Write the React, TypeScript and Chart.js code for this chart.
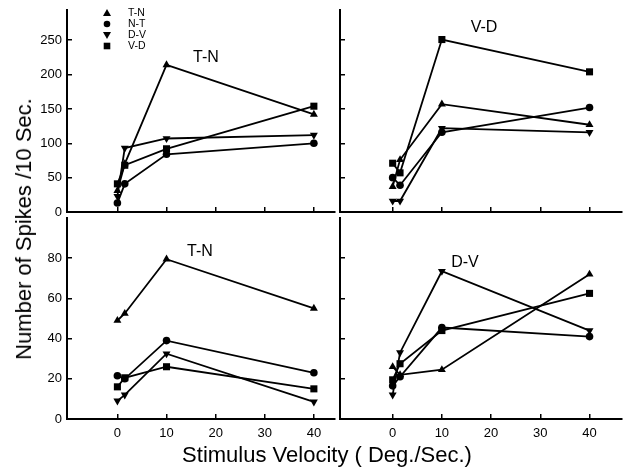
import React, { useEffect, useRef } from 'react';
import { Chart, registerables } from 'chart.js';

Chart.register(...registerables);

const FONT = "'Liberation Sans', Arial, Helvetica, sans-serif";

// ---- data ----
const velocities = [0, 1.5, 10, 40];
const seriesNames = ['T-N', 'N-T', 'D-V', 'V-D'];
const xTicks = [0, 10, 20, 30, 40];
const topYTicks = [0, 50, 100, 150, 200, 250];
const bottomYTicks = [0, 20, 40, 60, 80];

// top-left panel (T-N preferring cell)
const tlTN = [31, 70, 214, 142];
const tlNT = [13, 41, 84, 100];
const tlDV = [23, 93, 107, 112];
const tlVD = [41, 68, 92, 154];

// top-right panel (V-D preferring cell)
const trTN = [37, 76, 157, 127];
const trNT = [50, 39, 116, 152];
const trDV = [16, 16, 122, 116];
const trVD = [71, 57, 251, 204];

// bottom-left panel (T-N preferring cell)
const blTN = [49, 52.5, 79.5, 55];
const blNT = [21.5, 20, 39, 23];
const blDV = [9, 12, 32.5, 8.5];
const blVD = [16, 20.5, 26, 15];

// bottom-right panel (D-V preferring cell)
const brTN = [26, 22, 24.5, 72];
const brNT = [16.5, 21, 45.5, 41];
const brDV = [12, 33, 73.5, 44];
const brVD = [19.5, 27.5, 44, 62.5];

const panelLabels = ['T-N', 'V-D', 'T-N', 'D-V'];

// ---- styles ----
const markerStyles = [
  { pointStyle: 'triangle', rotation: 0, radius: 4.6 },
  { pointStyle: 'circle', rotation: 0, radius: 3.8 },
  { pointStyle: 'triangle', rotation: 180, radius: 4.6 },
  { pointStyle: 'rect', rotation: 0, radius: 5 },
];

function makeDatasets(series: number[][]) {
  return series.map((vals, i) => ({
    label: seriesNames[i],
    data: velocities.map((x, j) => ({ x, y: vals[j] })),
    borderColor: '#000',
    backgroundColor: '#000',
    borderWidth: 1.8,
    pointStyle: markerStyles[i].pointStyle,
    pointRotation: markerStyles[i].rotation,
    pointRadius: markerStyles[i].radius,
    pointBorderWidth: 0,
    pointBackgroundColor: '#000',
    tension: 0,
    fill: false,
    clip: false as any,
  }));
}

const legendPlugin = {
  id: 'cornerLegend',
  afterDraw(chart: any) {
    const ctx = chart.ctx as CanvasRenderingContext2D;
    ctx.save();
    ctx.fillStyle = '#000';
    ctx.font = `10.5px ${FONT}`;
    ctx.textBaseline = 'middle';
    ctx.textAlign = 'left';
    const mx = 107;
    const tx = 128;
    const y0 = 13;
    const dy = 11;
    seriesNames.forEach((name, i) => {
      const y = y0 + i * dy;
      ctx.beginPath();
      if (i === 0) {
        ctx.moveTo(mx, y - 4);
        ctx.lineTo(mx + 4, y + 3);
        ctx.lineTo(mx - 4, y + 3);
        ctx.closePath();
      } else if (i === 1) {
        ctx.arc(mx, y, 3.3, 0, Math.PI * 2);
      } else if (i === 2) {
        ctx.moveTo(mx, y + 4);
        ctx.lineTo(mx + 4, y - 3);
        ctx.lineTo(mx - 4, y - 3);
        ctx.closePath();
      } else {
        ctx.rect(mx - 3.3, y - 3.3, 6.6, 6.6);
      }
      ctx.fill();
      ctx.fillText(name, tx, y + 0.5);
    });
    ctx.restore();
  },
};

type PanelProps = {
  left: number;
  top: number;
  width: number;
  height: number;
  padTop: number;
  padRight: number;
  yAxisWidth: number;
  xAxisHeight: number;
  xMin: number;
  xMax: number;
  yMax: number;
  yTicks: number[];
  series: number[][];
  showYLabels: boolean;
  showXLabels: boolean;
  legend?: boolean;
};

function Panel(p: PanelProps) {
  const ref = useRef<HTMLCanvasElement | null>(null);
  useEffect(() => {
    if (!ref.current) return;
    const chart = new Chart(ref.current, {
      type: 'line',
      data: { datasets: makeDatasets(p.series) as any },
      plugins: p.legend ? [legendPlugin as any] : [],
      options: {
        responsive: false,
        animation: false,
        events: [],
        layout: { padding: { top: p.padTop, right: p.padRight, left: 0, bottom: 0 } },
        plugins: { legend: { display: false }, tooltip: { enabled: false } },
        scales: {
          x: {
            type: 'linear',
            position: 'bottom',
            min: p.xMin,
            max: p.xMax,
            afterBuildTicks: (s: any) => {
              s.ticks = xTicks.map((v) => ({ value: v }));
            },
            afterFit: (s: any) => {
              s.height = p.xAxisHeight;
              s.paddingLeft = 0;
              s.paddingRight = 0;
              s.paddingTop = 0;
              s.paddingBottom = 0;
            },
            grid: { drawOnChartArea: false, drawTicks: true, tickLength: -5, color: '#000', lineWidth: 1.5 },
            border: { display: true, color: '#000', width: 2 },
            ticks: {
              display: p.showXLabels,
              autoSkip: false,
              maxRotation: 0,
              color: '#000',
              padding: 12,
              font: { family: FONT, size: 13 },
            },
          },
          y: {
            type: 'linear',
            position: 'left',
            min: 0,
            max: p.yMax,
            afterBuildTicks: (s: any) => {
              s.ticks = p.yTicks.map((v) => ({ value: v }));
            },
            afterFit: (s: any) => {
              s.width = p.yAxisWidth;
              s.paddingLeft = 0;
              s.paddingRight = 0;
              s.paddingTop = 0;
              s.paddingBottom = 0;
            },
            grid: { drawOnChartArea: false, drawTicks: true, tickLength: -5, color: '#000', lineWidth: 1.5 },
            border: { display: true, color: '#000', width: 2 },
            ticks: {
              display: p.showYLabels,
              autoSkip: false,
              color: '#000',
              padding: 10,
              font: { family: FONT, size: 13 },
            },
          },
        },
      },
    });
    return () => chart.destroy();
  }, []);
  return (
    <canvas
      ref={ref}
      width={p.width}
      height={p.height}
      style={{ position: 'absolute', left: p.left, top: p.top, width: p.width, height: p.height }}
    />
  );
}

const labelStyle: React.CSSProperties = {
  position: 'absolute',
  fontFamily: FONT,
  color: '#000',
  whiteSpace: 'nowrap',
  transform: 'translate(-50%, -50%)',
};

export default function App() {
  return (
    <div
      style={{
        position: 'absolute',
        left: 0,
        top: 0,
        width: 627,
        height: 471,
        background: '#fff',
        overflow: 'hidden',
      }}
    >
      <Panel
        left={0} top={0} width={340} height={220}
        padTop={10} padRight={0} yAxisWidth={67} xAxisHeight={8}
        xMin={-10.26} xMax={44.3} yMax={294} yTicks={topYTicks}
        series={[tlTN, tlNT, tlDV, tlVD]} showYLabels showXLabels={false} legend
      />
      <Panel
        left={320} top={0} width={307} height={220}
        padTop={10} padRight={2} yAxisWidth={20} xAxisHeight={8}
        xMin={-10.7} xMax={46.6} yMax={294} yTicks={topYTicks}
        series={[trTN, trNT, trDV, trVD]} showYLabels={false} showXLabels={false}
      />
      <Panel
        left={0} top={210} width={340} height={261}
        padTop={8} padRight={0} yAxisWidth={67} xAxisHeight={52}
        xMin={-10.26} xMax={44.3} yMax={100} yTicks={bottomYTicks}
        series={[blTN, blNT, blDV, blVD]} showYLabels showXLabels
      />
      <Panel
        left={320} top={210} width={307} height={261}
        padTop={8} padRight={2} yAxisWidth={20} xAxisHeight={52}
        xMin={-10.7} xMax={46.6} yMax={100} yTicks={bottomYTicks}
        series={[brTN, brNT, brDV, brVD]} showYLabels={false} showXLabels
      />
      <div style={{ ...labelStyle, left: 206, top: 57, fontSize: 16 }}>{panelLabels[0]}</div>
      <div style={{ ...labelStyle, left: 484, top: 27, fontSize: 16 }}>{panelLabels[1]}</div>
      <div style={{ ...labelStyle, left: 200, top: 251, fontSize: 16 }}>{panelLabels[2]}</div>
      <div style={{ ...labelStyle, left: 465, top: 262, fontSize: 16 }}>{panelLabels[3]}</div>
      <div style={{ ...labelStyle, left: 24, top: 229, fontSize: 22, transform: 'translate(-50%, -50%) rotate(-90deg)' }}>
        Number of Spikes /10 Sec.
      </div>
      <div style={{ ...labelStyle, left: 327, top: 455, fontSize: 22 }}>
        Stimulus Velocity ( Deg./Sec.)
      </div>
    </div>
  );
}
